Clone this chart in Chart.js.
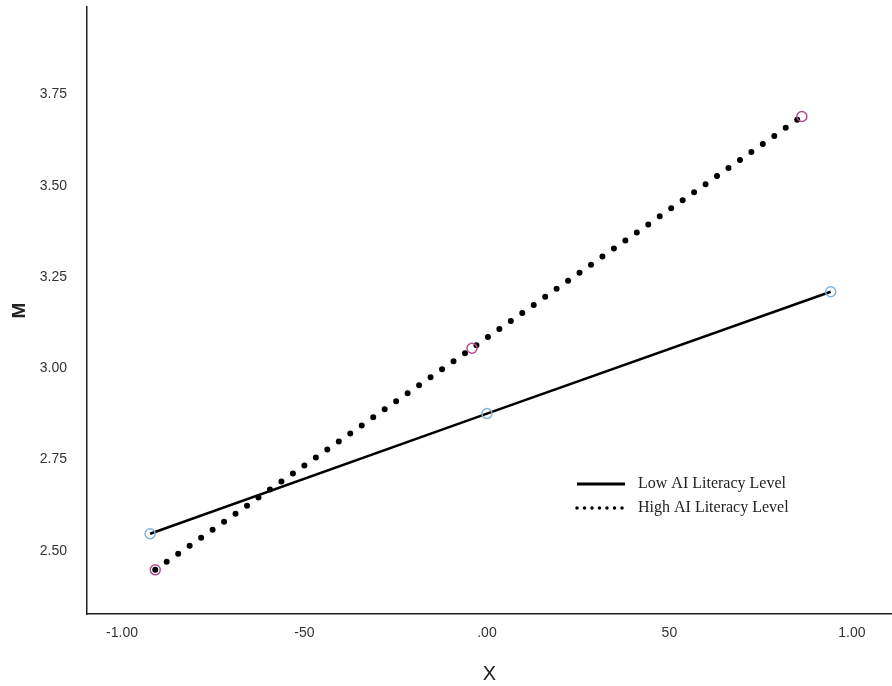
<!DOCTYPE html>
<html>
<head>
<meta charset="utf-8">
<script src="https://cdn.jsdelivr.net/npm/chart.js@4"></script>
<style>
  html, body { margin: 0; padding: 0; background: #fff; overflow: hidden; }
  canvas { display: block; }
</style>
</head>
<body>
<canvas id="chart" width="892" height="686"></canvas>
<script>
// values
const lowX = [-0.923, 0.0, 0.942];
const lowM = [2.547, 2.876, 3.21];
const highX = [-0.909, -0.041, 0.863];
const highM = [2.448, 3.055, 3.69];

const xTickValues = [-1, -0.5, 0, 0.5, 1];
const xTickLabels = ['-1.00', '-50', '.00', '50', '1.00'];
const yTickValues = [2.5, 2.75, 3.0, 3.25, 3.5, 3.75];
const yTickLabels = ['2.50', '2.75', '3.00', '3.25', '3.50', '3.75'];

const seriesNames = ['Low AI Literacy Level', 'High AI Literacy Level'];

function toPoints(xs, ys) {
    return xs.map((x, i) => ({ x: x, y: ys[i] }));
}

const tickFont = { family: 'Liberation Sans, Arial, sans-serif', size: 14 };

// legend drawn inside the plot, lower right
const legendPlugin = {
    id: 'insideLegend',
    afterDraw(chart) {
        const ctx = chart.ctx;
        const left = 575, top = 484, gap = 24;
        ctx.save();
        chart.data.datasets.forEach((ds, i) => {
            const y = top + i * gap;
            ctx.beginPath();
            ctx.strokeStyle = '#000';
            if (ds.legendDotted) {
                ctx.lineWidth = 3.5;
                ctx.lineCap = 'round';
                ctx.setLineDash([0, 7.5]);
            } else {
                ctx.lineWidth = 3;
                ctx.lineCap = 'butt';
                ctx.setLineDash([]);
            }
            ctx.moveTo(left + 2, y);
            ctx.lineTo(left + 50, y);
            ctx.stroke();
            ctx.setLineDash([]);
            ctx.fillStyle = '#222';
            ctx.font = '16px "Liberation Serif", "Times New Roman", serif';
            ctx.textBaseline = 'middle';
            ctx.fillText(ds.label, left + 63, y);
        });
        ctx.restore();
    }
};

new Chart(document.getElementById('chart'), {
    type: 'scatter',
    data: {
        datasets: [
            {
                label: seriesNames[0],
                data: toPoints(lowX, lowM),
                showLine: true,
                borderColor: '#000',
                borderWidth: 2.5,
                pointStyle: 'circle',
                pointRadius: 5,
                pointBorderWidth: 1.5,
                pointBorderColor: '#7fb2d9',
                pointBackgroundColor: 'rgba(255,255,255,0)',
                legendDotted: false
            },
            {
                label: seriesNames[1],
                data: toPoints(highX, highM),
                showLine: true,
                borderColor: '#000',
                borderWidth: 6,
                borderCapStyle: 'round',
                borderDash: [0, 14],
                pointStyle: 'circle',
                pointRadius: 5,
                pointBorderWidth: 1.5,
                pointBorderColor: '#b0508e',
                pointBackgroundColor: 'rgba(255,255,255,0)',
                legendDotted: true
            }
        ]
    },
    options: {
        responsive: false,
        animation: false,
        layout: { autoPadding: false, padding: { top: 7, right: 0, left: 0, bottom: 0 } },
        plugins: {
            legend: { display: false },
            tooltip: { enabled: false }
        },
        scales: {
            x: {
                type: 'linear',
                min: -1.096,
                max: 1.11,
                grid: { display: false, drawTicks: false },
                border: { display: true, color: '#222', width: 1.5 },
                afterBuildTicks: (scale) => {
                    scale.ticks = xTickValues.map((v) => ({ value: v }));
                },
                afterFit: (scale) => {
                    scale.height = 72;
                    scale.paddingLeft = 0;
                    scale.paddingRight = 0;
                },
                ticks: {
                    color: '#333',
                    font: tickFont,
                    padding: 11,
                    maxRotation: 0,
                    callback: (v) => {
                        const i = xTickValues.indexOf(v);
                        return i >= 0 ? xTickLabels[i] : '';
                    }
                },
                title: {
                    display: true,
                    text: 'X',
                    color: '#222',
                    font: { family: 'Liberation Sans, Arial, sans-serif', size: 20 },
                    padding: { top: 10, bottom: 0 }
                }
            },
            y: {
                type: 'linear',
                min: 2.327,
                max: 3.99,
                grid: { display: false, drawTicks: false },
                border: { display: true, color: '#222', width: 1.5 },
                afterBuildTicks: (scale) => {
                    scale.ticks = yTickValues.map((v) => ({ value: v }));
                },
                afterFit: (scale) => {
                    scale.width = 87;
                    scale.paddingTop = 0;
                    scale.paddingBottom = 0;
                },
                ticks: {
                    color: '#333',
                    font: tickFont,
                    padding: 20,
                    callback: (v) => {
                        const i = yTickValues.indexOf(v);
                        return i >= 0 ? yTickLabels[i] : '';
                    }
                },
                title: {
                    display: true,
                    text: 'M',
                    color: '#222',
                    font: { family: 'Liberation Sans, Arial, sans-serif', size: 19, weight: 'bold' },
                    padding: { top: 8, bottom: 0 }
                }
            }
        }
    },
    plugins: [legendPlugin]
});
</script>
</body>
</html>
